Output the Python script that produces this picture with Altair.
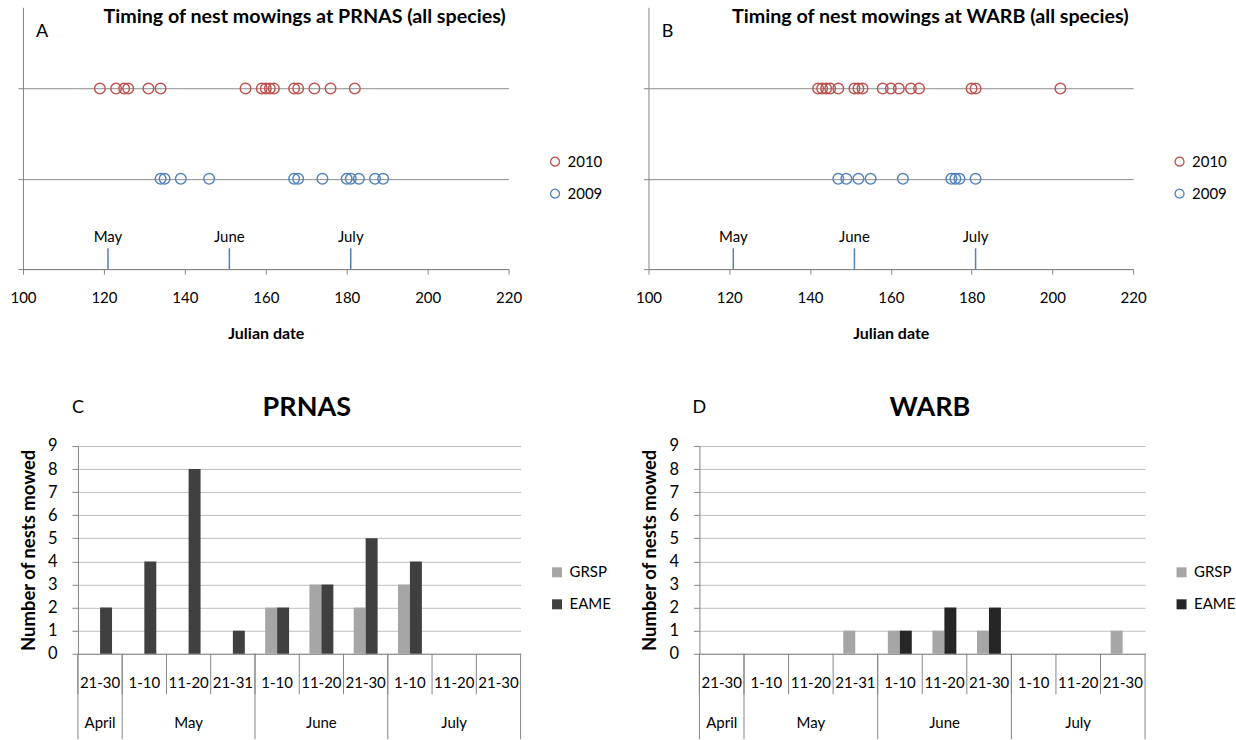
import altair as alt
import pandas as pd

FONT = "Lato"
GRID_DARK = "#8c8c8c"
AXIS_GRAY = "#868686"

# ---------------- data: top panels (Julian dates of mowed nests) ----------------
years = ["2010", "2009"]
year_rows = [2, 1]
year_colors = ["#c0504d", "#4f81bd"]

prnas_2010 = [119, 123, 125, 126, 131, 134, 155, 159, 160, 161, 162, 167, 168, 172, 176, 182]
prnas_2009 = [134, 135, 139, 146, 167, 168, 174, 180, 181, 183, 187, 189]
warb_2010 = [142, 143, 144, 145, 147, 151, 152, 153, 158, 160, 162, 165, 167, 180, 181, 202]
warb_2009 = [147, 149, 152, 155, 163, 175, 176, 177, 181]

month_names = ["May", "June", "July"]
month_starts = [121, 151, 181]
x_ticks = [100, 120, 140, 160, 180, 200, 220]

# ---------------- data: bottom panels (nests mowed per 10-day period) ----------------
periods = ["21-30", "1-10", "11-20", "21-31", "1-10", "11-20", "21-30", "1-10", "11-20", "21-30"]
period_months = ["April", "May", "May", "May", "June", "June", "June", "July", "July", "July"]
months_bottom = ["April", "May", "June", "July"]
species = ["GRSP", "EAME"]
prnas_grsp = [0, 0, 0, 0, 2, 3, 2, 3, 0, 0]
prnas_eame = [2, 4, 8, 1, 2, 3, 5, 4, 0, 0]
warb_grsp = [0, 0, 0, 1, 1, 1, 1, 0, 0, 1]
warb_eame = [0, 0, 0, 0, 1, 2, 2, 0, 0, 0]

keys = [f"{m} {p}" for m, p in zip(period_months, periods)]


def timing_panel(v2010, v2009, letter, title, width, title_x):
    pts = pd.DataFrame({
        "day": v2010 + v2009,
        "year": [years[0]] * len(v2010) + [years[1]] * len(v2009),
    })
    pts["row"] = pts["year"].map(dict(zip(years, year_rows)))
    xs = alt.Scale(domain=[100, 220], nice=False, zero=False)
    ys = alt.Scale(domain=[0, 2.9], nice=False, zero=False)
    xaxis = alt.Axis(values=x_ticks, title="Julian date", grid=False, tickSize=5,
                     tickColor=AXIS_GRAY, domainColor=AXIS_GRAY, labelFontSize=15,
                     labelColor="black", labelPadding=16, labelFlush=False,
                     titleFontSize=16, titleFontWeight="bold", titleColor="black",
                     titlePadding=20)
    yaxis = alt.Axis(values=[0, 1, 2], labels=False, title=None, grid=True,
                     gridColor=GRID_DARK, tickSize=5, tickColor=AXIS_GRAY,
                     domainColor=AXIS_GRAY, minExtent=0, maxExtent=5)
    points = alt.Chart(pts).mark_point(shape="circle", filled=False, size=113,
                                       strokeWidth=1.4, opacity=1).encode(
        x=alt.X("day:Q", scale=xs, axis=xaxis),
        y=alt.Y("row:Q", scale=ys, axis=yaxis),
        color=alt.Color("year:N", scale=alt.Scale(domain=years, range=year_colors),
                        legend=alt.Legend(orient="none", legendX=width + 39, legendY=147,
                                          title=None, labelFontSize=15, labelColor="black",
                                          symbolSize=80, symbolStrokeWidth=1.3,
                                          rowPadding=16, padding=0, labelOffset=5)),
    )
    months = pd.DataFrame({"day": month_starts, "name": month_names})
    rules = alt.Chart(months).mark_rule(color="#4f81bd", strokeWidth=1.5).encode(
        x=alt.X("day:Q", scale=xs, axis=xaxis),
        y=alt.YDatum(0, scale=ys, axis=yaxis),
        y2=alt.Y2Datum(0.23),
    )
    mlabels = alt.Chart(months).mark_text(fontSize=15, color="black").encode(
        x=alt.X("day:Q", scale=xs, axis=xaxis),
        y=alt.YDatum(0.35, scale=ys, axis=yaxis),
        text="name:N",
    )
    tdf = pd.DataFrame({"t": [title]})
    ttext = alt.Chart(tdf).mark_text(fontSize=19.7, fontWeight="bold", color="black").encode(
        x=alt.XDatum(title_x, scale=xs, axis=xaxis),
        y=alt.YDatum(2.79, scale=ys, axis=yaxis),
        text="t:N",
    )
    ldf = pd.DataFrame({"t": [letter]})
    ltext = alt.Chart(ldf).mark_text(fontSize=18, color="black").encode(
        x=alt.XDatum(104.7, scale=xs, axis=xaxis),
        y=alt.YDatum(2.63, scale=ys, axis=yaxis),
        text="t:N",
    )
    return alt.layer(points, rules, mlabels, ttext, ltext).properties(width=width, height=262)


def bar_panel(grsp, eame, eame_color, letter, title, plot_width, lead, height):
    df = pd.DataFrame({
        "key": keys * 2,
        "species": [species[0]] * len(keys) + [species[1]] * len(keys),
        "n": grsp + eame,
    })
    width = lead + plot_width
    xs = alt.Scale(domain=keys, paddingInner=0, paddingOuter=0, range=[lead, width])
    ys = alt.Scale(domain=[0, 9], nice=False)
    xaxis = alt.Axis(labels=False, ticks=False, domain=True, domainColor=AXIS_GRAY,
                     title=None, grid=False)
    yaxis = alt.Axis(values=list(range(10)), grid=True, gridColor="#c0c0c0",
                     domainColor=AXIS_GRAY, tickColor=AXIS_GRAY, tickSize=6,
                     labelFontSize=16.5, labelColor="black", labelPadding=15,
                     title="Number of nests mowed", titleFontSize=18.5,
                     titleFontWeight="bold", titleColor="black", titlePadding=9,
                     offset=-lead)
    bars = alt.Chart(df).mark_bar().encode(
        x=alt.X("key:N", scale=xs, axis=xaxis),
        xOffset=alt.XOffset("species:N", scale=alt.Scale(domain=species, paddingOuter=0.85,
                                                         paddingInner=0)),
        y=alt.Y("n:Q", scale=ys, axis=yaxis),
        color=alt.Color("species:N", scale=alt.Scale(domain=species,
                                                     range=["#a6a6a6", eame_color]),
                        legend=alt.Legend(orient="none", legendX=width + 29, legendY=119,
                                          title=None, labelFontSize=15, labelColor="black",
                                          symbolType="square", symbolSize=100,
                                          rowPadding=16, padding=0, labelOffset=5)),
    )
    cats = pd.DataFrame({"key": keys, "period": periods})
    cat_text = alt.Chart(cats).mark_text(fontSize=15, color="black").encode(
        x=alt.X("key:N", scale=xs, axis=xaxis),
        y=alt.YDatum(-1.25, scale=ys, axis=yaxis),
        text="period:N",
    )
    cat_sep = alt.Chart(cats).mark_rule(color=AXIS_GRAY, strokeWidth=1).encode(
        x=alt.X("key:N", scale=xs, axis=xaxis, bandPosition=0),
        y=alt.YDatum(0, scale=ys, axis=yaxis),
        y2=alt.Y2Datum(-1.75),
    )
    first_keys = [keys[period_months.index(m)] for m in months_bottom]
    mid_keys = []
    for m in months_bottom:
        idx = [i for i, pm in enumerate(period_months) if pm == m]
        mid_keys.append(keys[idx[len(idx) // 2]])
    mstart = pd.DataFrame({"key": first_keys})
    month_sep = alt.Chart(mstart).mark_rule(color=AXIS_GRAY, strokeWidth=1).encode(
        x=alt.X("key:N", scale=xs, axis=xaxis, bandPosition=0),
        y=alt.YDatum(0, scale=ys, axis=yaxis),
        y2=alt.Y2Datum(-3.7),
    )
    mend = pd.DataFrame({"key": [keys[-1]]})
    end_sep = alt.Chart(mend).mark_rule(color=AXIS_GRAY, strokeWidth=1).encode(
        x=alt.X("key:N", scale=xs, axis=xaxis, bandPosition=1),
        y=alt.YDatum(0, scale=ys, axis=yaxis),
        y2=alt.Y2Datum(-3.7),
    )
    mlab = pd.DataFrame({"key": mid_keys, "month": months_bottom})
    month_text = alt.Chart(mlab).mark_text(fontSize=15, color="black").encode(
        x=alt.X("key:N", scale=xs, axis=xaxis),
        y=alt.YDatum(-3.0, scale=ys, axis=yaxis),
        text="month:N",
    )
    ldf = pd.DataFrame({"t": [letter]})
    ltext = alt.Chart(ldf).mark_text(fontSize=18, color="black").encode(
        x=alt.XDatum(keys[0], scale=xs, axis=xaxis, bandPosition=0),
        y=alt.YDatum(10.65, scale=ys, axis=yaxis),
        text="t:N",
    )
    tdf = pd.DataFrame({"t": [title]})
    ttext = alt.Chart(tdf).mark_text(fontSize=27, fontWeight="bold", color="black").encode(
        x=alt.XDatum(keys[5], scale=xs, axis=xaxis, bandPosition=0.17),
        y=alt.YDatum(10.65, scale=ys, axis=yaxis),
        text="t:N",
    )
    return alt.layer(bars, cat_sep, month_sep, end_sep, cat_text, month_text,
                     ltext, ttext).properties(width=width, height=height)


panel_a = timing_panel(prnas_2010, prnas_2009, "A",
                       "Timing of nest mowings at PRNAS (all species)", 486, 169.6)
panel_b = timing_panel(warb_2010, warb_2009, "B",
                       "Timing of nest mowings at WARB (all species)", 485, 169.8)
panel_c = bar_panel(prnas_grsp, prnas_eame, "#404040", "C", "PRNAS", 443, 55, 208)
panel_d = bar_panel(warb_grsp, warb_eame, "#262626", "D", "WARB", 446, 0, 208)

top = alt.hconcat(panel_a, panel_b, spacing=32).resolve_scale(color="independent")
bottom = alt.hconcat(panel_c, panel_d, spacing=29).resolve_scale(color="independent")

chart = alt.concat(top, bottom, columns=1, align="none", spacing=52).resolve_scale(
    color="independent"
).properties(
    padding={"left": 9, "top": 6, "right": 0, "bottom": 0},
).configure_view(stroke=None).configure_axis(
    labelFont=FONT, titleFont=FONT
).configure_legend(labelFont=FONT).configure_text(font=FONT)

chart.save("out.html", embed_options={"renderer": "svg", "actions": False})
